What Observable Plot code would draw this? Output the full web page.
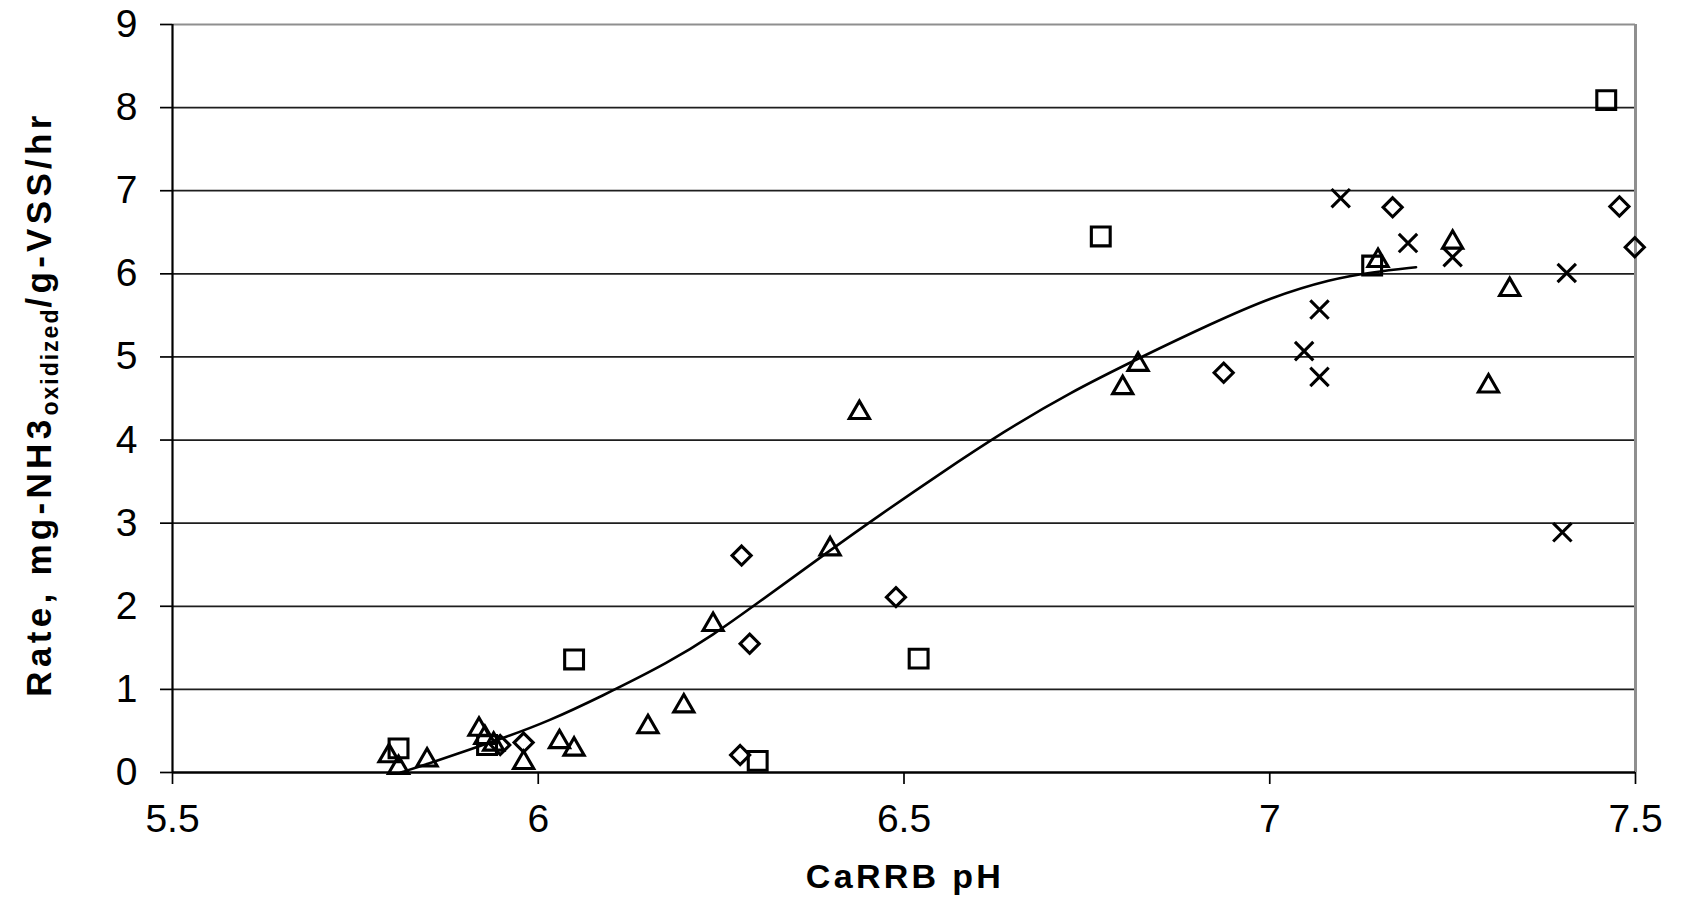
<!DOCTYPE html>
<html>
<head>
<meta charset="utf-8">
<script src="https://cdn.jsdelivr.net/npm/d3@7"></script>
<script src="https://cdn.jsdelivr.net/npm/@observablehq/plot@0.6"></script>
<style>
  html, body { margin: 0; padding: 0; background: #fff; }
  #chart { width: 1681px; height: 900px; }
</style>
</head>
<body>
<div id="chart"></div>
<script>
// ---- Data: [CaRRB pH, rate] ----
const squares = [
  [5.809, 0.29], [5.930, 0.33], [6.049, 1.36], [6.300, 0.14],
  [6.520, 1.37], [6.769, 6.45], [7.140, 6.10], [7.460, 8.09]
];
const diamonds = [
  [5.948, 0.33], [5.980, 0.36], [6.276, 0.21], [6.278, 2.61], [6.289, 1.55],
  [6.489, 2.11], [6.937, 4.81], [7.168, 6.80], [7.478, 6.81], [7.499, 6.32]
];
const triangles = [
  [5.796, 0.23], [5.809, 0.09], [5.848, 0.18], [5.919, 0.55], [5.927, 0.45],
  [5.939, 0.37], [5.980, 0.15], [6.029, 0.40], [6.049, 0.31], [6.150, 0.58],
  [6.199, 0.83], [6.239, 1.81], [6.399, 2.72], [6.439, 4.36], [6.799, 4.66],
  [6.820, 4.94], [7.148, 6.19], [7.250, 6.41], [7.299, 4.68], [7.328, 5.84]
];
const crosses = [
  [7.047, 5.07], [7.068, 5.57], [7.068, 4.76], [7.097, 6.91],
  [7.189, 6.37], [7.250, 6.20], [7.406, 6.01], [7.400, 2.89]
];
// fitted trend curve
const trend = [
  [5.812, 0.00], [5.848, 0.10], [5.898, 0.25], [5.957, 0.43], [6.012, 0.61],
  [6.085, 0.91], [6.180, 1.33], [6.240, 1.66], [6.294, 2.00], [6.400, 2.68],
  [6.464, 3.08], [6.550, 3.60], [6.636, 4.10], [6.722, 4.55], [6.829, 5.02],
  [6.920, 5.40], [7.002, 5.72], [7.085, 5.94], [7.140, 6.02], [7.200, 6.08]
];
const xTicks = [5.5, 6, 6.5, 7, 7.5];
const yTicks = [0, 1, 2, 3, 4, 5, 6, 7, 8, 9];
const yGrid = [1, 2, 3, 4, 5, 6, 7, 8];
const xTitle = "CaRRB pH";
const yTitleMain = "Rate, mg-NH3";
const yTitleSub = "oxidized";
const yTitleEnd = "/g-VSS/hr";

const X = d => d[0], Y = d => d[1];
const mk = {stroke: "#000", strokeWidth: 3.1, fill: "none"};

const plot = Plot.plot({
  width: 1681,
  height: 900,
  marginLeft: 172,
  marginRight: 46,
  marginTop: 24,
  marginBottom: 128,
  style: {fontFamily: "'Liberation Sans', Arial, sans-serif", fontSize: "39px", color: "#000", background: "#fff", overflow: "visible"},
  x: {domain: [5.5, 7.5]},
  y: {domain: [0, 9]},
  marks: [
    Plot.gridY(yGrid, {stroke: "#1e1e1e", strokeOpacity: 1, strokeWidth: 1.7}),
    Plot.ruleY([9], {stroke: "#8f8f8f", strokeWidth: 2}),
    Plot.ruleX([7.5], {stroke: "#8f8f8f", strokeWidth: 3}),
    Plot.axisX({ticks: xTicks, tickSize: 12, tickPadding: 20, strokeWidth: 1.7, tickFormat: d => String(d), label: null}),
    Plot.axisY({ticks: yTicks, tickSize: 12, tickPadding: 23, strokeWidth: 1.7, tickFormat: d => String(d), label: null}),
    Plot.ruleX([5.5], {stroke: "#000", strokeWidth: 2.2}),
    Plot.ruleY([0], {stroke: "#000", strokeWidth: 2.5}),
    Plot.line(trend, {x: X, y: Y, curve: "basis", stroke: "#000", strokeWidth: 2.6}),
    Plot.dot(squares, {x: X, y: Y, symbol: "square2", r: 12, ...mk}),
    Plot.dot(diamonds, {x: X, y: Y, symbol: "diamond2", r: 8.6, ...mk}),
    Plot.dot(triangles, {x: X, y: Y, symbol: "triangle2", r: 9.6, dy: 2.6, ...mk}),
    Plot.dot(crosses, {x: X, y: Y, symbol: "times", r: 8.4, ...mk})
  ]
});

const svg = d3.select(plot);
svg.append("text")
  .attr("x", 905).attr("y", 888)
  .attr("text-anchor", "middle")
  .attr("font-weight", "bold")
  .attr("font-size", 34)
  .attr("letter-spacing", 3.3)
  .attr("fill", "#000")
  .text(xTitle);

const yt = svg.append("text")
  .attr("transform", "translate(51,404) rotate(-90)")
  .attr("text-anchor", "middle")
  .attr("font-weight", "bold")
  .attr("font-size", 35)
  .attr("letter-spacing", 4.3)
  .attr("fill", "#000");
yt.append("tspan").text(yTitleMain);
yt.append("tspan").attr("font-size", 23).attr("letter-spacing", 2).attr("dy", 7).text(yTitleSub);
yt.append("tspan").attr("dy", -7).text(yTitleEnd);

document.getElementById("chart").appendChild(plot);
</script>
</body>
</html>
